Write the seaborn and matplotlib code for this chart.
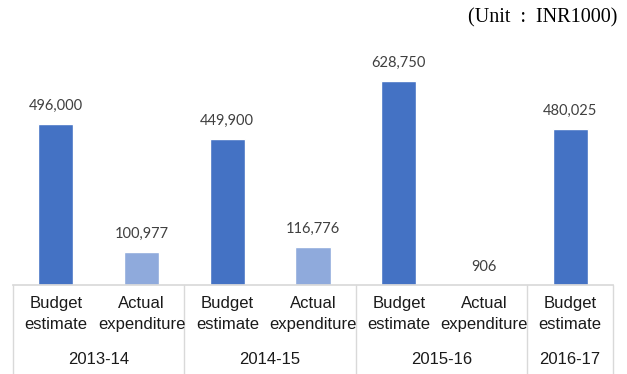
import matplotlib
matplotlib.use("Agg")
import matplotlib.pyplot as plt
import matplotlib.transforms as mtransforms
import seaborn as sns
import pandas as pd

years = ["2013-14", "2014-15", "2015-16", "2016-17"]
bar_types = ["Budget\nestimate", "Actual\nexpenditure", "Budget\nestimate", "Actual\nexpenditure",
             "Budget\nestimate", "Actual\nexpenditure", "Budget\nestimate"]
kinds = ["Budget", "Actual", "Budget", "Actual", "Budget", "Actual", "Budget"]
values = [496000, 100977, 449900, 116776, 628750, 906, 480025]
year_spans = [(0, 1), (2, 3), (4, 5), (6, 6)]

df = pd.DataFrame({"pos": list(range(len(values))), "kind": kinds, "value": values})

sns.set_theme(style="white")
plt.rcParams["font.family"] = ["Liberation Sans Narrow", "Liberation Sans", "DejaVu Sans"]

fig = plt.figure(figsize=(6.27, 3.74), dpi=100)
ax = fig.add_axes([13 / 627, 89 / 374, 600 / 627, 240 / 374])

sns.barplot(data=df, x="pos", y="value", hue="kind", dodge=False, width=0.41,
            palette={"Budget": "#4472C4", "Actual": "#8FAADC"}, ax=ax, legend=False,
            saturation=1)

ax.set_xlim(-0.5, len(values) - 0.5)
ax.set_ylim(0, 738000)
for c in ax.containers:
    ax.bar_label(c, labels=[f"{v:,.0f}" if v == v else "" for v in c.datavalues],
                 padding=8, fontsize=10.5, color="#404040", family="Lato")

for s in ["top", "left", "right"]:
    ax.spines[s].set_visible(False)
ax.spines["bottom"].set_color("#D9D9D9")
ax.set_yticks([])
ax.set_xticks([])
ax.set_xlabel("")
ax.set_ylabel("")

trans = mtransforms.blended_transform_factory(ax.transData, ax.transAxes)
bottom_ax = -89 / 240
for xline in [-0.5, 1.5, 3.5, 5.5, 6.5]:
    ax.plot([xline, xline], [0, bottom_ax], transform=trans, color="#D9D9D9",
            lw=1, clip_on=False)
for i, lab in enumerate(bar_types):
    ax.text(i, -29 / 240, lab, transform=trans, ha="center", va="center",
            fontsize=12, color="#1a1a1a", linespacing=1.55)
for yr, (a, b) in zip(years, year_spans):
    ax.text((a + b) / 2, -74 / 240, yr, transform=trans, ha="center", va="center",
            fontsize=12, color="#1a1a1a")

fig.text(617 / 627, 1 - 18 / 374, "(Unit  :  INR1000)", ha="right", va="center",
         fontsize=14.5, family="Liberation Serif", color="black")

fig.savefig("out.png", dpi=100)
